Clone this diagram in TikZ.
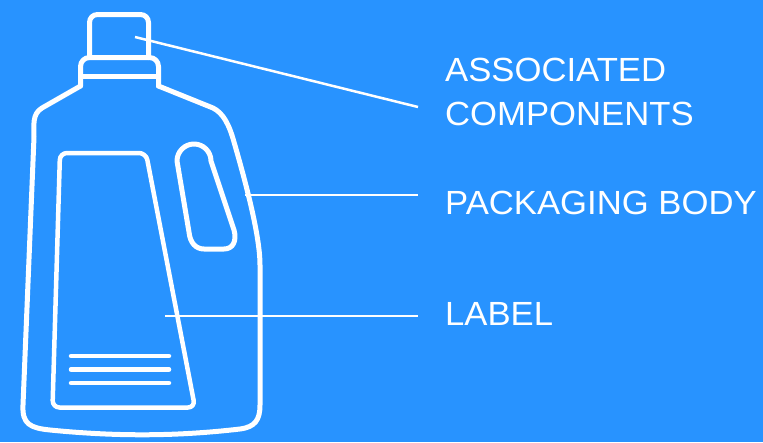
\documentclass[tikz,border=0pt]{standalone}
\usepackage{fontspec}
\setmainfont{Liberation Sans}
\newfontfamily\capfont[FakeStretch=1.035]{Liberation Sans}
\definecolor{bg}{RGB}{40,147,255}
\begin{document}
\begin{tikzpicture}[x=1pt,y=-1pt,
  outline/.style={draw=white,line width=5pt,line join=round,line cap=round},
  thin/.style={draw=white,line width=4.5pt,line join=round,line cap=round},
  leader/.style={draw=white,line width=2.5pt},
  caption/.style={text=white,inner sep=0pt,anchor=base west,align=left,
    font=\capfont\fontsize{33.5}{43.3}\selectfont}]
  % background
  \fill[bg] (0,0) rectangle (763,442);
  \useasboundingbox (0,0) rectangle (763,442);

  % cap
  \draw[outline,rounded corners=8] (89.5,57.5) -- (89.5,14.5) -- (148.5,14.5) -- (148.5,57.5);
  % collar
  \draw[outline,rounded corners=9] (80.5,86) -- (80.5,57.5) -- (158.5,57.5) -- (158.5,86);
  \draw[outline] (80.5,76) -- (158.5,76);
  % body
  \draw[outline] (80.5,86) -- (42,108)
    .. controls (32,114) and (34,125) .. (34,137)
    -- (23,405)
    .. controls (22,424) and (30,428) .. (50,430)
    .. controls (120,437) and (180,436) .. (240,429)
    .. controls (255,427) and (260,420) .. (260,405)
    -- (260,265)
    .. controls (260,235) and (245,180) .. (234,142)
    .. controls (229,124) and (223,113) .. (213,108)
    -- (158.5,86);
  % handle opening (y axis points down, so the top arc runs 180 -> 360)
  \draw[outline] (177,161) arc[start angle=180,end angle=360,radius=17]
    -- (234,230) .. controls (237,241) and (233,249) .. (224,249)
    -- (204,249) .. controls (196,249) and (190,243) .. (189,232)
    -- (177,161);
  % label panel
  \draw[thin,rounded corners=7] (60,153) -- (146,153) -- (195,407.5) -- (52.5,407.5) -- cycle;
  \draw[thin] (71,356) -- (169,356);
  \draw[thin] (71,369.5) -- (169,369.5);
  \draw[thin] (71,383) -- (169,383);

  % leader ends
  \coordinate (capPt) at (135,37);
  \coordinate (bodyPt) at (245,195);
  \coordinate (labelPt) at (165,316);
  \coordinate (capEnd) at (418,107);
  \coordinate (bodyEnd) at (418,195);
  \coordinate (labelEnd) at (418,316);
  \draw[leader] (capPt) -- (capEnd);
  \draw[leader] (bodyPt) -- (bodyEnd);
  \draw[leader] (labelPt) -- (labelEnd);

  % captions (base anchor of a multi-line node is its last baseline)
  \node[caption] (capTxt) at (445,125) {ASSOCIATED\\COMPONENTS};
  \node[caption] (bodyTxt) at (445,214.3) {PACKAGING BODY};
  \node[caption] (labelTxt) at (445,325.7) {LABEL};
\end{tikzpicture}
\end{document}
